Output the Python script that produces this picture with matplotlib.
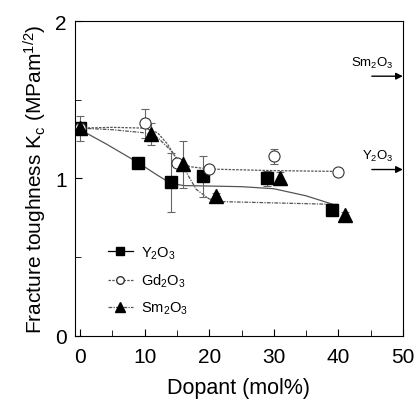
import matplotlib
matplotlib.use('Agg')
import matplotlib.pyplot as plt
from matplotlib.lines import Line2D
from matplotlib.ticker import MultipleLocator

plt.rcParams['font.family'] = ['Liberation Sans', 'DejaVu Sans']
plt.rcParams['mathtext.fontset'] = 'custom'
plt.rcParams['mathtext.rm'] = 'Liberation Sans'
plt.rcParams['mathtext.it'] = 'Liberation Sans'

# measured points (dopant mol%, K_c, error)
y_x   = [0, 9, 14, 19, 29, 39]
y_k   = [1.32, 1.10, 0.975, 1.015, 1.00, 0.80]
y_err = [0.0, 0.0, 0.19, 0.13, 0.05, 0.02]

gd_x   = [0, 10, 15, 20, 30, 40]
gd_k   = [1.32, 1.35, 1.10, 1.06, 1.14, 1.04]
gd_err = [0.0, 0.09, 0.0, 0.0, 0.05, 0.0]

sm_x   = [0, 11, 16, 21, 31, 41]
sm_k   = [1.32, 1.28, 1.09, 0.89, 1.00, 0.765]
sm_err = [0.08, 0.07, 0.15, 0.02, 0.04, 0.02]

# fitted guide curves
y_fit_x  = [0, 4, 9, 12, 14, 16, 20, 25, 30, 35, 40]
y_fit_k  = [1.31, 1.22, 1.10, 1.02, 0.97, 0.955, 0.952, 0.948, 0.935, 0.89, 0.825]
gd_fit_x = [0, 5, 10, 12, 13.5, 15, 17, 20, 30, 40]
gd_fit_k = [1.32, 1.325, 1.32, 1.29, 1.22, 1.12, 1.075, 1.06, 1.05, 1.045]
sm_fit_x = [0, 5, 10, 12, 14, 16, 18, 20, 22, 30, 40]
sm_fit_k = [1.32, 1.31, 1.29, 1.26, 1.18, 1.07, 0.93, 0.87, 0.853, 0.845, 0.835]

# reference values marked by arrows on the right axis
ref_labels = ['Sm$_2$O$_3$', 'Y$_2$O$_3$']
ref_k      = [1.65, 1.057]

fig = plt.figure(figsize=(4.17, 4.02), dpi=100)
ax = fig.add_axes([0.18, 0.162, 0.786, 0.783])

ax.plot(y_fit_x, y_fit_k, '-', color='#555555', lw=0.9)
ax.plot(gd_fit_x, gd_fit_k, '--', color='#555555', lw=0.9, dashes=(2, 1))
ax.plot(sm_fit_x, sm_fit_k, '-.', color='#555555', lw=0.9, dashes=(3, 1, 1, 1))

eb = dict(ls='none', ecolor='#666666', elinewidth=0.8, capsize=3, capthick=0.8)
ax.errorbar(y_x, y_k, yerr=y_err, marker='s', ms=8.5, mfc='black', mec='black', **eb)
ax.errorbar(gd_x, gd_k, yerr=gd_err, marker='o', ms=8, mfc='white', mec='#333333', mew=0.8, **eb)
ax.errorbar(sm_x, sm_k, yerr=sm_err, marker='^', ms=9.5, mfc='black', mec='black', **eb)

for lab, k in zip(ref_labels, ref_k):
    ax.annotate('', xy=(50, k), xytext=(45.2, k),
                arrowprops=dict(arrowstyle='-|>', color='black', lw=1.0,
                                mutation_scale=10, shrinkA=0, shrinkB=0))
    ax.text(48.6, k + 0.04, lab, ha='right', va='bottom', fontsize=9.5)

ax.set_xlim(-0.8, 50)
ax.set_ylim(0, 2)
ax.xaxis.set_major_locator(MultipleLocator(10))
ax.xaxis.set_minor_locator(MultipleLocator(5))
ax.yaxis.set_major_locator(MultipleLocator(1))
ax.yaxis.set_minor_locator(MultipleLocator(0.5))
ax.tick_params(which='both', direction='in', labelsize=15)
ax.tick_params(which='major', length=5)
ax.tick_params(which='minor', length=4)
ax.tick_params(axis='x', pad=8)
ax.tick_params(axis='y', pad=6)

ax.set_xlabel('Dopant (mol%)', fontsize=15.5, labelpad=8)
ax.set_ylabel('Fracture toughness K$_c$ (MPam$^{1/2}$)', fontsize=15, labelpad=4)

handles = [
    Line2D([], [], color='black', lw=0.9, marker='s', ms=6, mfc='black'),
    Line2D([], [], color='#555555', lw=0.9, ls='--', dashes=(2, 1), marker='o', ms=5.5, mfc='white', mec='#333333'),
    Line2D([], [], color='#555555', lw=0.9, ls='-.', dashes=(3, 1, 1, 1), marker='^', ms=6.5, mfc='black', mec='black'),
]
ax.legend(handles, ['Y$_2$O$_3$', 'Gd$_2$O$_3$', 'Sm$_2$O$_3$'], loc='lower left',
          bbox_to_anchor=(0.06, 0.02), frameon=False, fontsize=10.5,
          handlelength=1.7, handletextpad=0.6, labelspacing=0.75)

fig.savefig('out.png', dpi=100)
